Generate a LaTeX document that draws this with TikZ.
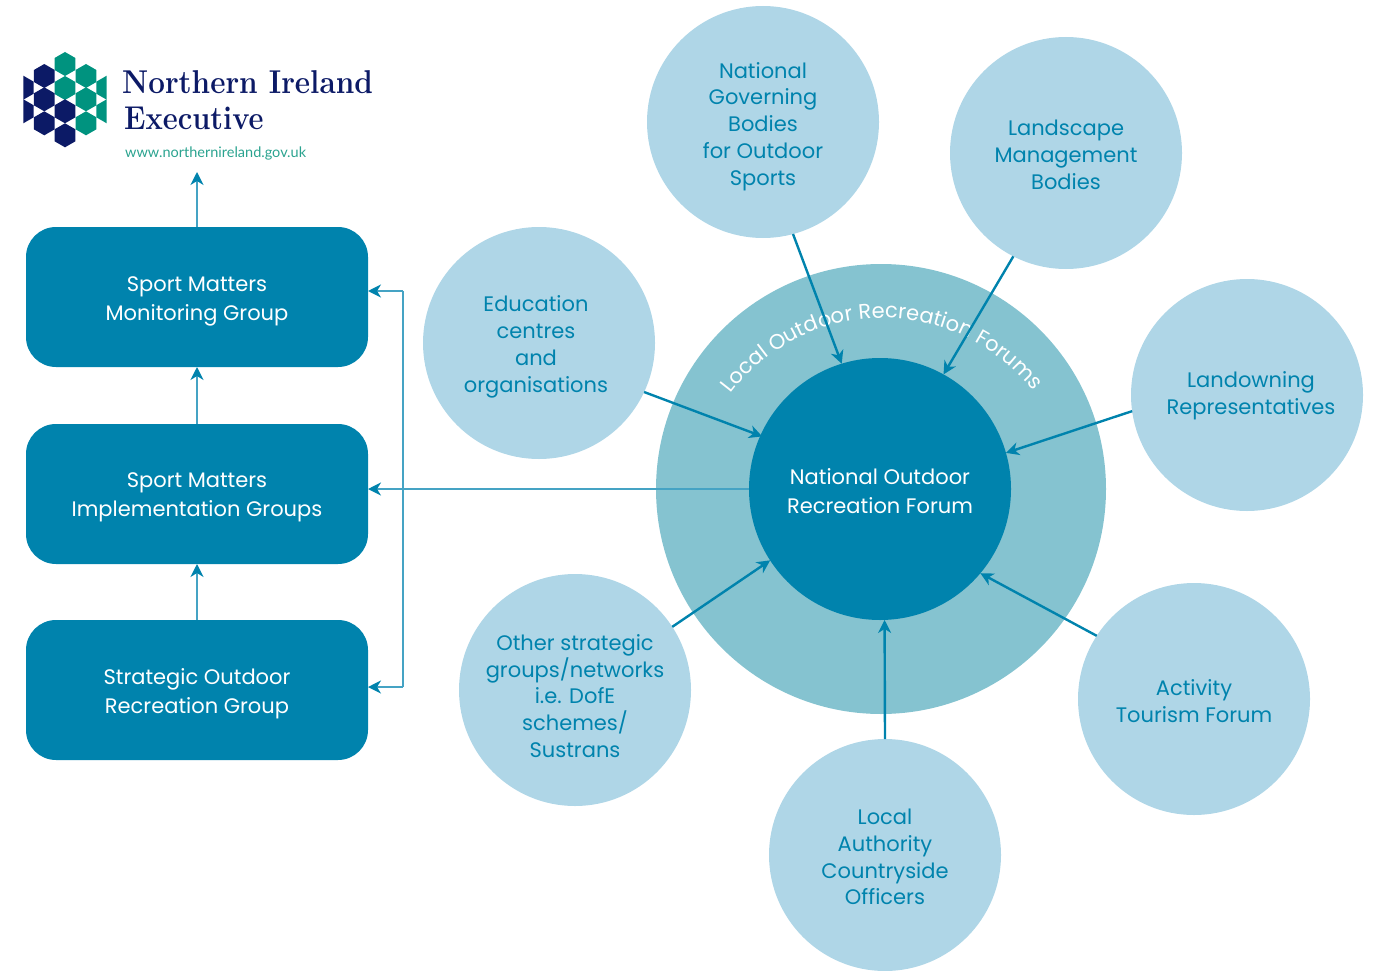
\documentclass[tikz,border=0pt]{standalone}
\usepackage{fontspec}
\setsansfont{Poppins}
\newfontfamily\urlfont{Lato}
\usetikzlibrary{arrows.meta,decorations.text,calc}
\definecolor{dk}{HTML}{0083AD}
\definecolor{lt}{HTML}{AFD6E7}
\definecolor{ring}{HTML}{85C3D0}
\definecolor{shaft}{HTML}{45A3C4}
\definecolor{navy}{HTML}{0C1A66}
\definecolor{teal}{HTML}{00937F}
\definecolor{urlc}{HTML}{2AA38F}
\tikzset{
  x=1pt,y=-1pt,
  bub/.style={circle,fill=lt,minimum size=232pt,inner sep=0pt,outer sep=0pt},
  bubtext/.style={inner sep=0pt,text=dk,align=center,font=\sffamily\fontsize{21}{26.8}\selectfont},
  hub/.style={circle,fill=dk,minimum size=262pt,inner sep=0pt,outer sep=0pt},
  gtext/.style={inner sep=0pt,text=white,align=center,font=\sffamily\fontsize{21}{29}\selectfont},
  outer/.style={circle,fill=ring,minimum size=450pt,inner sep=0pt,outer sep=0pt},
  gbox/.style={rectangle,rounded corners=30pt,fill=dk,minimum width=342pt,minimum height=140pt,inner sep=0pt,outer sep=0pt},
  inarrow/.style={draw=dk,line width=2.4pt,-{Stealth[length=13pt,width=13pt,inset=4pt]}},
  sidearrow/.style={draw=shaft,line width=1.6pt,-{Stealth[length=13pt,width=13pt,inset=4pt,fill=dk,color=dk]}},
  sideline/.style={draw=shaft,line width=1.6pt},
  logotext/.style={inner sep=0pt,anchor=base west,text=navy},
}
\newcommand{\hexat}[3]{\fill[#3] (#1,#2-12) -- (#1+10.4,#2-6) -- (#1+10.4,#2+6) -- (#1,#2+12) -- (#1-10.4,#2+6) -- (#1-10.4,#2-6) -- cycle;}
\newcommand{\halfhex}[4]{\fill[#4] (#1,#2-12) -- (#1+#3,#2-6) -- (#1+#3,#2+6) -- (#1,#2+12) -- cycle;}
\begin{document}
\begin{tikzpicture}
\useasboundingbox (0,0) rectangle (1373,971);
% logo
\foreach \p/\q in {65/64,86/76,65/88,86/99.3,86/123.3} {\hexat{\p}{\q}{teal}}
\foreach \p/\q in {44.3/76,44.3/99.3,65/111.3,44.3/123.3,65/135.3} {\hexat{\p}{\q}{navy}}
\halfhex{23.3}{87.7}{10.4}{navy}
\halfhex{23.3}{111.3}{10.4}{navy}
\halfhex{106.7}{87.7}{-10.4}{teal}
\halfhex{106.7}{111.3}{-10.4}{teal}
\node[logotext,font=\fontsize{33}{33}\selectfont\bfseries] (l1) at (122,94) {\scalebox{0.9}[1]{Northern Ireland}};
\node[logotext,font=\fontsize{33}{33}\selectfont\bfseries] (l2) at (124,130) {\scalebox{0.88}[1]{Executive}};
\node[logotext,text=urlc,font=\urlfont\fontsize{14.5}{15}\selectfont] (l3) at (125,157.5) {www.northernireland.gov.uk};
% rings
\node[outer] (ringc) at (881,489) {};
\node[hub] (nat) at (880,489) {};
\node[gtext] (natt) at (880,491) {National Outdoor\\Recreation Forum};
\coordinate (arcc) at (883,508);
\path[decorate,decoration={text along path,text align=center,text={|\sffamily\fontsize{21}{21}\selectfont\color{white}|Local Outdoor Recreation Forums}}]
  ($(arcc)+(147:190pt)$) arc[start angle=147,end angle=34,radius=190pt];
% bubbles
\node[bub] (ngb) at (763,122) {};
\node[bubtext] (ngbt) at (763,126.5) {National\\Governing\\Bodies\\for Outdoor\\Sports};
\node[bub] (land) at (1066,153) {};
\node[bubtext] (landt) at (1066,155) {Landscape\\Management\\Bodies};
\node[bub] (edu) at (539,343) {};
\node[bubtext] (edut) at (536,347) {Education\\centres\\and\\organisations};
\node[bub] (own) at (1247,395) {};
\node[bubtext] (ownt) at (1251,396) {Landowning\\Representatives};
\node[bub] (oth) at (575,690) {};
\node[bubtext] (otht) at (575,696) {Other strategic\\groups/networks\\i.e. DofE\\schemes/\\Sustrans};
\node[bub] (act) at (1194,699) {};
\node[bubtext] (actt) at (1194,701) {Activity\\Tourism Forum};
\node[bub] (loc) at (885,855) {};
\node[bubtext] (loct) at (885,857) {Local\\Authority\\Countryside\\Officers};
% boxes
\node[gbox] (mon) at (197,297) {};
\node[gtext] (mont) at (197,301) {Sport Matters\\Monitoring Group};
\node[gbox] (imp) at (197,494) {};
\node[gtext] (impt) at (197,497) {Sport Matters\\Implementation Groups};
\node[gbox] (str) at (197,690) {};
\node[gtext] (strt) at (197,694) {Strategic Outdoor\\Recreation Group};
% connectors
\draw[inarrow] (ngb.-75.6) -- (nat.107.5);
\draw[inarrow] (land.-117) -- (nat.61.3);
\draw[inarrow] (own.-172) -- (nat.16.8);
\draw[inarrow,shorten >=-2pt] (edu.-25.2) -- (nat.156.3);
\draw[inarrow] (oth.33) -- (nat.213.3);
\draw[inarrow] (act.147) -- (nat.-40.4);
\draw[inarrow] (loc.north) -- (nat.-88);
\coordinate (top) at (197,172);
\coordinate (busT) at (403,291);
\coordinate (busB) at (403,687);
\draw[sidearrow] (mon.north) -- (top);
\draw[sidearrow] (imp.north) -- (mon.south);
\draw[sidearrow] (str.north) -- (imp.south);
\draw[sidearrow] (nat.west) -- (nat.west -| imp.east);
\draw[sideline] (busT) -- (busB);
\draw[sidearrow] (busT) -- (busT -| mon.east);
\draw[sidearrow] (busB) -- (busB -| str.east);
\end{tikzpicture}
\end{document}
